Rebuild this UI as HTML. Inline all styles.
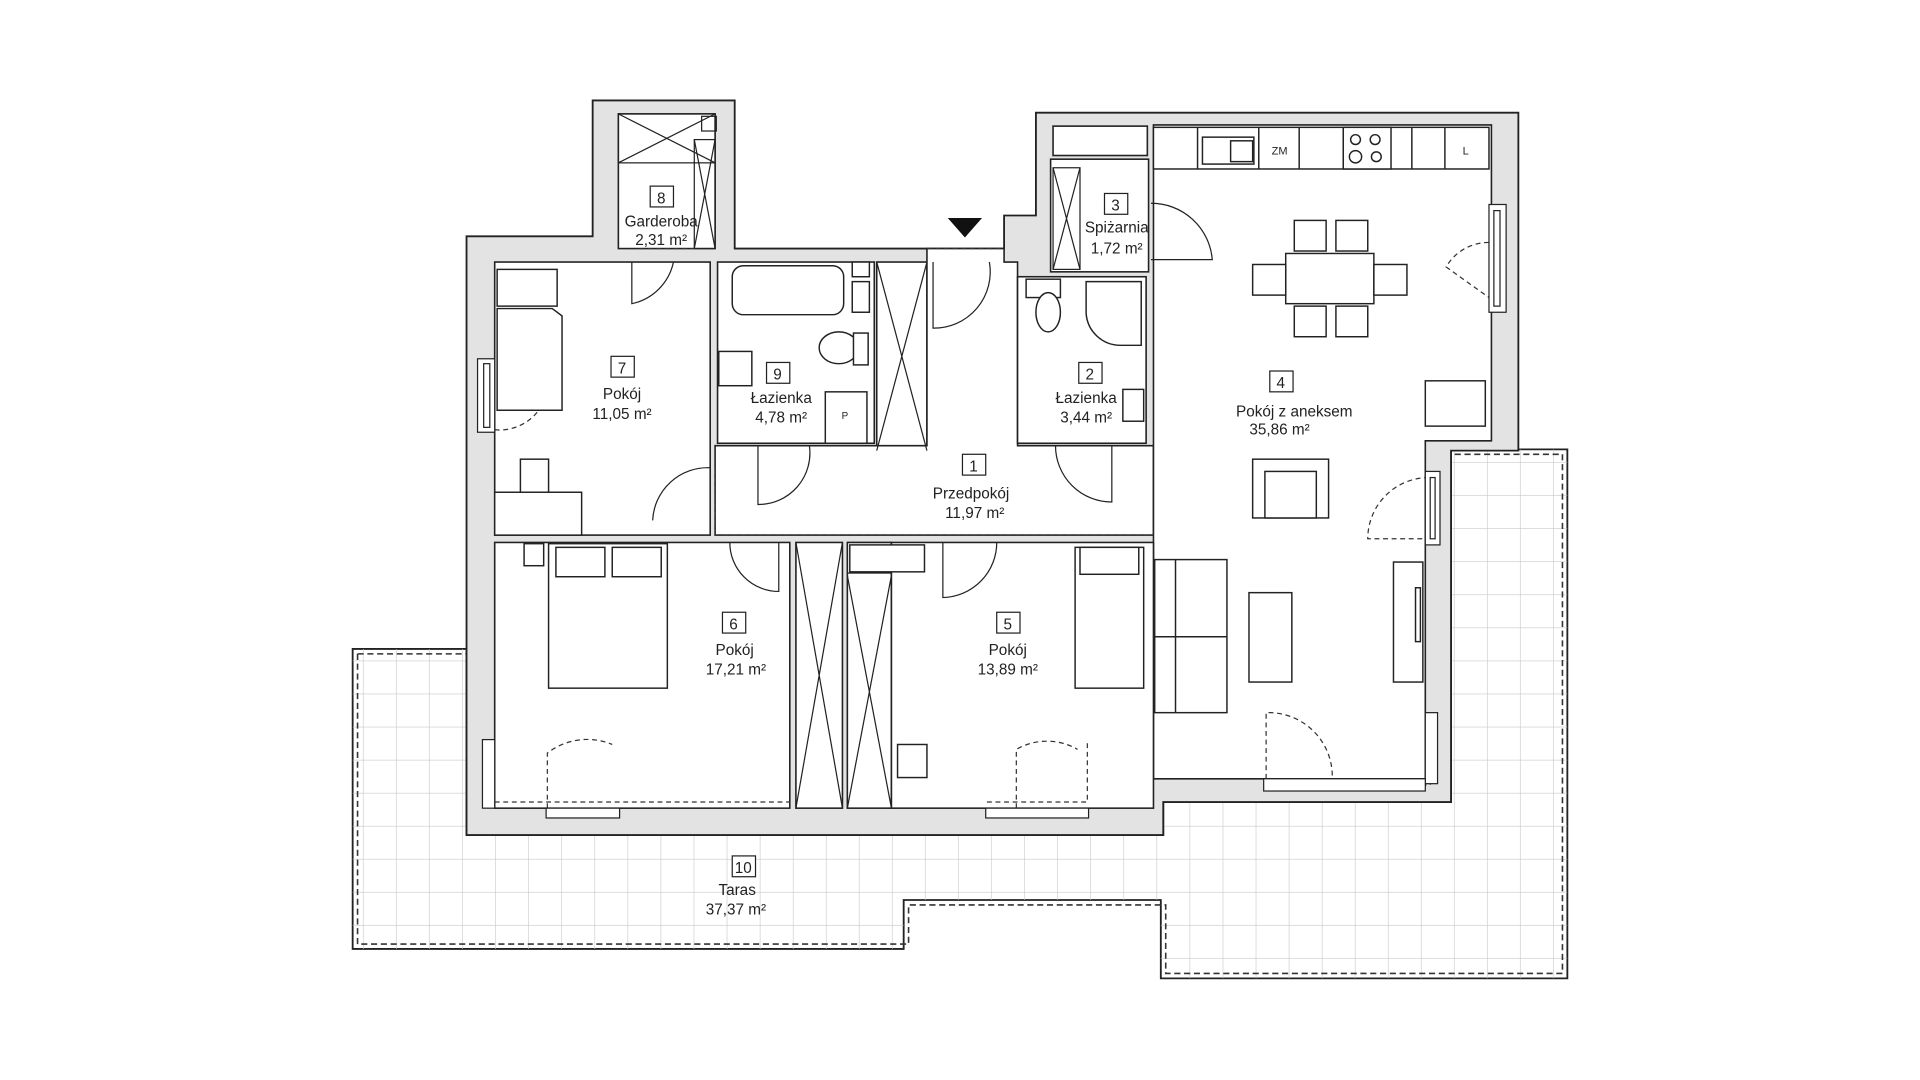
<!DOCTYPE html>
<html><head><meta charset="utf-8"><style>
html,body{margin:0;padding:0;background:#fff;}
svg{display:block}
text{font-family:"Liberation Sans",sans-serif;fill:#222;}
</style></head><body>
<svg width="1920" height="1080" viewBox="0 0 1568 882" xmlns="http://www.w3.org/2000/svg">
<defs>
<pattern id="g" x="0" y="0" width="27" height="27" patternUnits="userSpaceOnUse">
<path d="M27 0V27M0 27H27" stroke="#c8c8c8" stroke-width="1" fill="none"/>
</pattern>
<clipPath id="tc"><path d="M288 530H381V682H950V655H1185V367H1280V799H948V735H738V775H288Z"/></clipPath>
</defs>
<!-- terrace -->
<path d="M288 530H381V682H950V655H1185V367H1280V799H948V735H738V775H288Z" fill="#fff" stroke="#222" stroke-width="1.5"/>
<rect x="280" y="360" width="1010" height="450" fill="url(#g)" clip-path="url(#tc)"/>
<path d="M292 534H381M292 534V771H742V739H952V795H1276V371H1185" fill="none" stroke="#333" stroke-width="1.3" stroke-dasharray="5,3"/>
<!-- building walls -->
<path d="M381 193H484V82H600V203H820V176H846V92H1240V368H1185V655H950V682H381Z" fill="#e3e3e3" stroke="#222" stroke-width="1.5"/>
<g fill="#fff" stroke="#222" stroke-width="1.3">
<rect x="505" y="93" width="79" height="110"/>
<rect x="404" y="214" width="176" height="223"/>
<rect x="586" y="214" width="128" height="148"/>
<rect x="716" y="214" width="41" height="154"/>
<path d="M757 203H820V214H831V364H942V437H584V364H757Z"/>
<rect x="858" y="130" width="80" height="92"/>
<rect x="831" y="226" width="105" height="136"/>
<path d="M942 102H1218V360H1164V636H942Z"/>
<rect x="404" y="443" width="241" height="217"/>
<rect x="650" y="443" width="38" height="217"/>
<rect x="692" y="443" width="36" height="217"/>
<rect x="728" y="443" width="214" height="217"/>
<rect x="860" y="103" width="77" height="24"/>
</g>
<!-- X boxes -->
<g stroke="#222" stroke-width="1" fill="none">
<rect x="505" y="93" width="79" height="40"/><path d="M505 93L584 133M584 93L505 133"/>
<rect x="567" y="114" width="17" height="89"/><path d="M567 114L584 203M584 114L567 203"/>
<rect x="573" y="95" width="12" height="12"/>
<path d="M716 214L757 368M757 214L716 368"/>
<rect x="860" y="137" width="22" height="83"/><path d="M860 137L882 220M882 137L860 220"/>
<path d="M650 443L688 660M688 443L650 660"/>
<path d="M692 470L728 660M728 470L692 660"/><rect x="692" y="443" width="36" height="25"/>
</g>
<!-- furniture -->
<g stroke="#222" stroke-width="1.2" fill="#fff">
<rect x="942" y="104" width="274" height="34"/>
<path d="M978 104V138M1028 104V138M1061 104V138M1097 104V138M1153 104V138M1180 104V138" fill="none"/>
<rect x="982" y="112" width="42" height="22"/><rect x="1005" y="115" width="18" height="17"/>
<rect x="1097" y="104" width="39" height="34"/>
<circle cx="1107" cy="114" r="4"/><circle cx="1123" cy="114" r="4"/><circle cx="1107" cy="128" r="5"/><circle cx="1124" cy="128" r="4"/>
<rect x="1050" y="207" width="72" height="41"/>
<rect x="1023" y="216" width="27" height="25"/><rect x="1122" y="216" width="27" height="25"/>
<rect x="1057" y="180" width="26" height="25"/><rect x="1091" y="180" width="26" height="25"/>
<rect x="1057" y="250" width="26" height="25"/><rect x="1091" y="250" width="26" height="25"/>
<rect x="1164" y="311" width="49" height="37"/>
<rect x="1023" y="375" width="62" height="48"/><rect x="1033" y="385" width="42" height="38"/>
<rect x="943" y="457" width="59" height="125"/><path d="M960 457V582M943 520H1002" fill="none"/>
<rect x="1020" y="484" width="35" height="73"/>
<rect x="1138" y="459" width="24" height="98"/><rect x="1156" y="480" width="4" height="44"/>
<rect x="406" y="220" width="49" height="30"/><path d="M406 252H451L459 258V335H406Z"/>
<rect x="425" y="375" width="23" height="27"/><rect x="404" y="402" width="71" height="35"/>
<rect x="448" y="444" width="97" height="118"/><rect x="428" y="444" width="16" height="18"/>
<rect x="454" y="447" width="40" height="24"/><rect x="500" y="447" width="40" height="24"/>
<rect x="878" y="447" width="56" height="115"/><rect x="882" y="447" width="48" height="22"/>
<rect x="733" y="608" width="24" height="27"/>
<rect x="694" y="445" width="61" height="22"/>
<rect x="598" y="217" width="91" height="40" rx="9"/>
<rect x="696" y="214" width="14" height="12"/><rect x="696" y="230" width="14" height="25"/>
<ellipse cx="685" cy="284" rx="16" ry="13"/><rect x="697" y="272" width="12" height="26"/>
<rect x="587" y="287" width="27" height="28"/>
<rect x="674" y="320" width="34" height="42"/>
<rect x="838" y="228" width="28" height="15"/><ellipse cx="856" cy="255" rx="10" ry="16"/>
<path d="M887 230H932V282H915A28 28 0 0 1 887 256Z"/>
<rect x="917" y="318" width="17" height="26"/>
</g>
<!-- doors -->
<g stroke="#222" stroke-width="1" fill="none">
<path d="M516 214V248A44 44 0 0 0 550 214"/>
<path d="M762 214V268A46 46 0 0 0 808 214"/>
<path d="M619 364V412A42 42 0 0 0 661 364"/>
<path d="M862 364A46 46 0 0 0 908 410V364"/>
<path d="M533 425A45 45 0 0 1 580 382"/>
<path d="M596 443A40 40 0 0 0 636 483V443"/>
<path d="M770 443V488A45 45 0 0 0 814 443"/>
<path d="M940 166A50 50 0 0 1 990 212H940"/>
</g>
<g stroke="#333" stroke-width="1" fill="none" stroke-dasharray="4,3">
<path d="M447 660V615A53 53 0 0 1 500 608"/>
<path d="M830 660V612A50 50 0 0 1 880 612"/>
<path d="M1034 636V582A52 52 0 0 1 1088 636"/>
<path d="M1167 390A50 50 0 0 0 1117 440H1167"/>
<path d="M404 351A40 40 0 0 0 440 335"/>
<path d="M1216 198A40 40 0 0 0 1181 218L1216 243"/>
<path d="M404 655H645M404 610V655M806 655H888V605M1035 641H1168V585"/>
<path d="M584 437H942M584 383V437M757 203H820M522 203H567"/>
</g>
<!-- windows -->
<g fill="#fff" stroke="#222" stroke-width="1">
<rect x="390" y="293" width="14" height="60"/><rect x="395" y="297" width="5" height="52"/>
<rect x="1216" y="167" width="14" height="88"/><rect x="1220" y="172" width="5" height="78"/>
<rect x="1164" y="385" width="12" height="60"/><rect x="1168" y="390" width="4" height="50"/>
<rect x="1164" y="582" width="10" height="58"/>
<rect x="1032" y="636" width="132" height="10"/><rect x="446" y="660" width="60" height="8"/><rect x="805" y="660" width="84" height="8"/>
<rect x="394" y="604" width="10" height="56"/>
</g>
<path d="M774 178H802L788 194Z" fill="#111"/>
<!-- labels -->
<g font-size="12.5" text-anchor="middle" stroke="#222" stroke-width="1" fill="#fff">
<rect x="531" y="152" width="19" height="17"/><rect x="902" y="158" width="19" height="17"/>
<rect x="499" y="291" width="19" height="17"/><rect x="626" y="296" width="19" height="17"/>
<rect x="881" y="296" width="19" height="17"/><rect x="1037" y="303" width="19" height="17"/>
<rect x="786" y="371" width="19" height="17"/><rect x="590" y="500" width="19" height="17"/>
<rect x="814" y="500" width="19" height="17"/><rect x="598" y="699" width="19" height="17"/>
</g>
<g font-size="12.5" text-anchor="middle">
<text x="540" y="166">8</text><text x="540" y="185">Garderoba</text><text x="540" y="200">2,31 m²</text>
<text x="911" y="172">3</text><text x="912" y="190">Spiżarnia</text><text x="912" y="207">1,72 m²</text>
<text x="508" y="305">7</text><text x="508" y="326">Pokój</text><text x="508" y="342">11,05 m²</text>
<text x="635" y="310">9</text><text x="638" y="329">Łazienka</text><text x="638" y="345">4,78 m²</text>
<text x="890" y="310">2</text><text x="887" y="329">Łazienka</text><text x="887" y="345">3,44 m²</text>
<text x="1046" y="317">4</text><text x="1057" y="340">Pokój z aneksem</text><text x="1045" y="355">35,86 m²</text>
<text x="795" y="385">1</text><text x="793" y="407">Przedpokój</text><text x="796" y="423">11,97 m²</text>
<text x="599" y="514">6</text><text x="600" y="535">Pokój</text><text x="601" y="551">17,21 m²</text>
<text x="823" y="514">5</text><text x="823" y="535">Pokój</text><text x="823" y="551">13,89 m²</text>
<text x="607" y="713">10</text><text x="602" y="731">Taras</text><text x="601" y="747">37,37 m²</text>
<text x="1045" y="126" font-size="9">ZM</text><text x="1197" y="126" font-size="9">L</text>
<text x="690" y="342" font-size="8">P</text>
</g>
</svg>
</body></html>
